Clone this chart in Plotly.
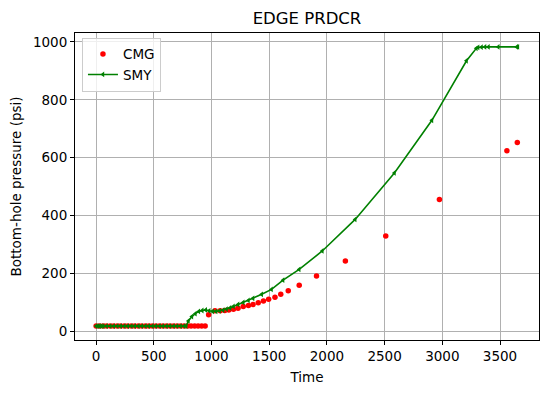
import plotly.graph_objects as go

cmg_time = [0, 30, 61, 91, 122, 152, 183, 213, 244, 274, 305, 335, 366, 396, 427, 457,
            488, 518, 549, 579, 610, 640, 671, 701, 732, 762, 793, 823, 854, 884, 915, 945,
            975, 1030, 1075, 1115, 1150, 1190, 1230, 1275, 1320, 1360, 1405, 1450, 1495,
            1550, 1600, 1665, 1760, 1910, 2160, 2510, 2975, 3560, 3650]
cmg_bhp = [17, 17, 17, 17, 17, 17, 17, 17, 17, 17, 17, 17, 17, 17, 17, 17,
           17, 17, 17, 17, 17, 17, 17, 17, 17, 17, 17, 17, 17, 17, 17, 17,
           56, 70, 70, 71, 73, 75, 79, 85, 88, 92, 98, 104, 110,
           117, 127, 139, 158, 190, 242, 329, 455, 624, 652]

smy_time = [0, 15, 30, 45, 61, 91, 122, 152, 183, 213, 244, 274, 305, 335, 366, 396,
            427, 457, 488, 518, 549, 579, 610, 640, 671, 701, 732, 762, 780, 800, 830,
            860, 890, 920, 950, 980, 1010, 1040, 1070, 1100, 1130, 1160, 1190, 1230,
            1275, 1320, 1360, 1435, 1520, 1620, 1760, 1960, 2245, 2585, 2910, 3210,
            3295, 3310, 3340, 3370, 3400, 3485, 3645, 3655]
smy_bhp = [17, 17, 17, 17, 17, 17, 17, 17, 17, 17, 17, 17, 17, 17, 17, 17,
           17, 17, 17, 17, 17, 17, 17, 17, 17, 17, 17, 17, 17, 35, 50,
           60, 68, 71, 73, 70, 68, 68, 70, 72, 76, 80, 85, 92,
           99, 106, 113, 127, 144, 176, 213, 277, 386, 547, 729, 935,
           978, 981, 982, 983, 983, 983, 983, 983]

font = "DejaVu Sans"
fs = 13.5
fig = go.Figure()
fig.add_trace(go.Scatter(x=cmg_time, y=cmg_bhp, mode="markers", name="CMG",
                         marker=dict(color="red", size=5.5, symbol="circle", line=dict(width=0))))
fig.add_trace(go.Scatter(x=smy_time, y=smy_bhp, mode="lines+markers", name="SMY",
                         line=dict(color="green", width=1.6),
                         marker=dict(color="green", size=5, symbol="triangle-left", line=dict(width=0))))

axis_common = dict(showline=True, linecolor="black", linewidth=1, mirror=True,
                   showgrid=True, gridcolor="#b0b0b0", gridwidth=1,
                   ticks="outside", ticklen=4, tickcolor="black", automargin=False,
                   tickfont=dict(family=font, size=fs, color="black"), zeroline=False)
fig.update_xaxes(range=[-183, 3838], tickvals=[0, 500, 1000, 1500, 2000, 2500, 3000, 3500],
                 title=dict(text="Time", font=dict(family=font, size=fs, color="black"), standoff=9),
                 **axis_common)
fig.update_yaxes(range=[-31, 1031], tickvals=[0, 200, 400, 600, 800, 1000],
                 title=dict(text="Bottom-hole pressure (psi)", font=dict(family=font, size=fs, color="black"), standoff=8),
                 **axis_common)
fig.update_layout(
    width=541, height=385,
    margin=dict(l=67, r=10, t=25, b=53, autoexpand=False),
    paper_bgcolor="white", plot_bgcolor="white",
    title=dict(text="EDGE PRDCR", x=0.5, xanchor="center", xref="paper", y=0.974, yanchor="middle",
               font=dict(family=font, size=16.5, color="black")),
    legend=dict(x=0.015, y=0.985, xanchor="left", yanchor="top",
                bordercolor="#cccccc", borderwidth=1, bgcolor="rgba(255,255,255,0.8)",
                font=dict(family=font, size=fs, color="black"), itemwidth=30),
    showlegend=True,
)
fig.write_html("out.html")
